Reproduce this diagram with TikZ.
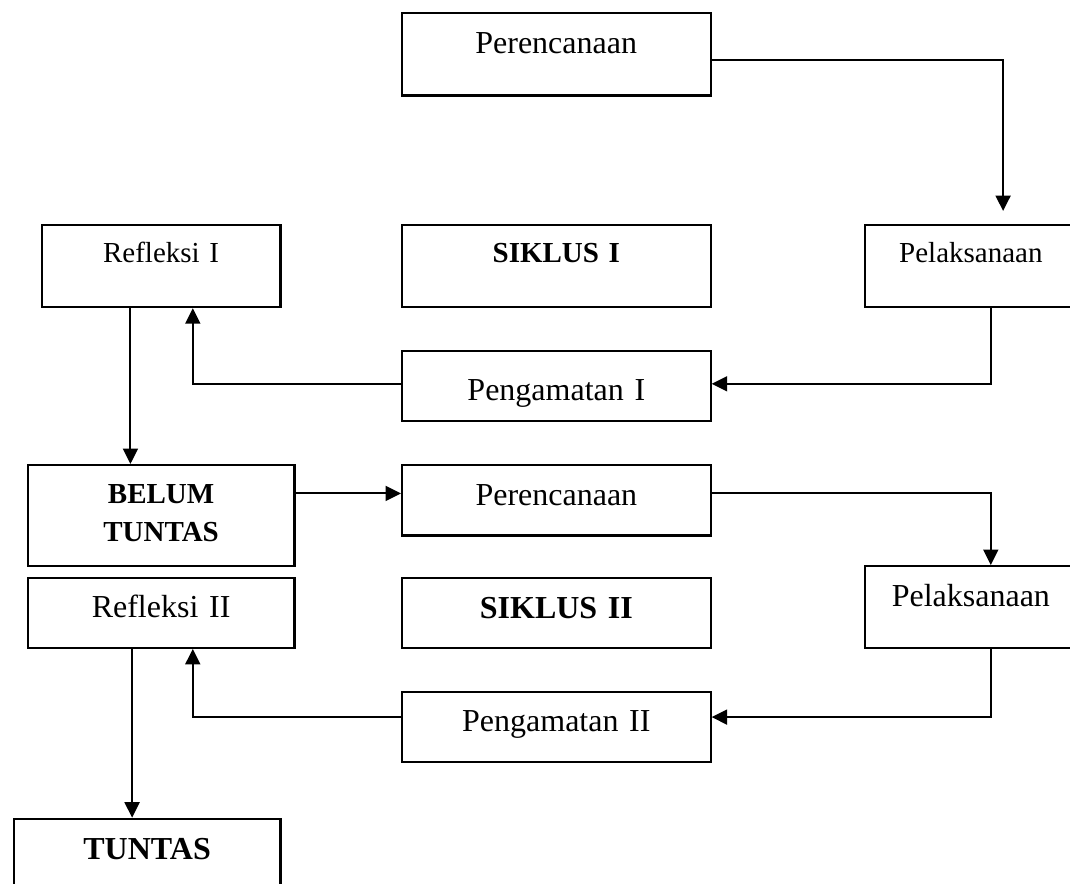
\documentclass[tikz,border=0pt]{standalone}
\usepackage{fontspec}
\setmainfont{Liberation Serif}
\usetikzlibrary{arrows.meta}
\begin{document}
\begin{tikzpicture}[x=1pt,y=-1pt,
  box/.style={draw, line width=2.2pt, inner sep=0pt, anchor=north west, align=center},
  fa/.style={font=\fontsize{29}{38}\selectfont},
  fb/.style={font=\fontsize{32}{38}\selectfont},
  arr/.style={line width=2pt, -{Triangle[length=15.5pt,width=15pt]}}]
\useasboundingbox (0,0) rectangle (1070,883);
\clip (0,0) rectangle (1070,883);
% cycle I
\node[box, fb, text width=308.8pt, text height=41pt, text depth=41.6pt] (per1) at (400.7,11.7) {Perencanaan};
\node[box, fa, text width=238.6pt, text height=37.7pt, text depth=44.3pt] (ref1) at (40.7,224) {Refleksi I};
\node[box, fa, text width=308.5pt, text height=37.7pt, text depth=44pt] (sik1) at (401,224) {\textbf{SIKLUS I}};
\node[box, fa, text width=212.5pt, text height=37pt, text depth=44.7pt] (pel1) at (863.5,224) {Pelaksanaan};
\node[box, fb, text width=308.5pt, text height=49.3pt, text depth=20.7pt] (pen1) at (401,350) {Pengamatan I};
% cycle II
\node[box, fa, text width=266.6pt, text height=38.7pt, text depth=62.3pt] (belum) at (26.7,464) {\textbf{BELUM}\\\textbf{TUNTAS}};
\node[box, fb, text width=308.5pt, text height=40pt, text depth=30.3pt] (per2) at (401,464) {Perencanaan};
\node[box, fb, text width=266.6pt, text height=40pt, text depth=30pt] (ref2) at (26.7,576.7) {Refleksi II};
\node[box, fb, text width=308.5pt, text height=40.6pt, text depth=29.4pt] (sik2) at (401,576.7) {\textbf{SIKLUS II}};
\node[box, fb, text width=212.5pt, text height=40pt, text depth=41.7pt] (pel2) at (863.5,565) {Pelaksanaan};
\node[box, fb, text width=308.5pt, text height=40pt, text depth=30.3pt] (pen2) at (401,690.7) {Pengamatan II};
\node[box, fb, text width=266.6pt, text height=40.6pt, text depth=41.7pt] (tuntas) at (12.7,817.7) {\textbf{TUNTAS}};
% connectors
\draw[arr, shorten >=13pt] ([yshift=-6.3pt]per1.east) -| ([xshift=32.25pt]pel1.north);
\draw[arr] ([xshift=20pt]pel1.south) |- ([yshift=2.3pt]pen1.east);
\draw[arr] ([yshift=2.3pt]pen1.west) -| ([xshift=31.7pt]ref1.south);
\draw[arr] ([xshift=-30.7pt]ref1.south) -- ([xshift=-30.7pt]ref1.south |- belum.north);
\draw[arr] ([yshift=22.2pt]belum.east) -- ([yshift=22.2pt]belum.east -| per2.west);
\draw[arr] ([yshift=7.45pt]per2.east) -| ([xshift=19.95pt]pel2.north);
\draw[arr] ([xshift=19.95pt]pel2.south) |- ([yshift=9.85pt]pen2.east);
\draw[arr] ([yshift=9.85pt]pen2.west) -| ([xshift=31.7pt]ref2.south);
\draw[arr] ([xshift=-29pt]ref2.south) -- ([xshift=-29pt]ref2.south |- tuntas.north);
\end{tikzpicture}
\end{document}
